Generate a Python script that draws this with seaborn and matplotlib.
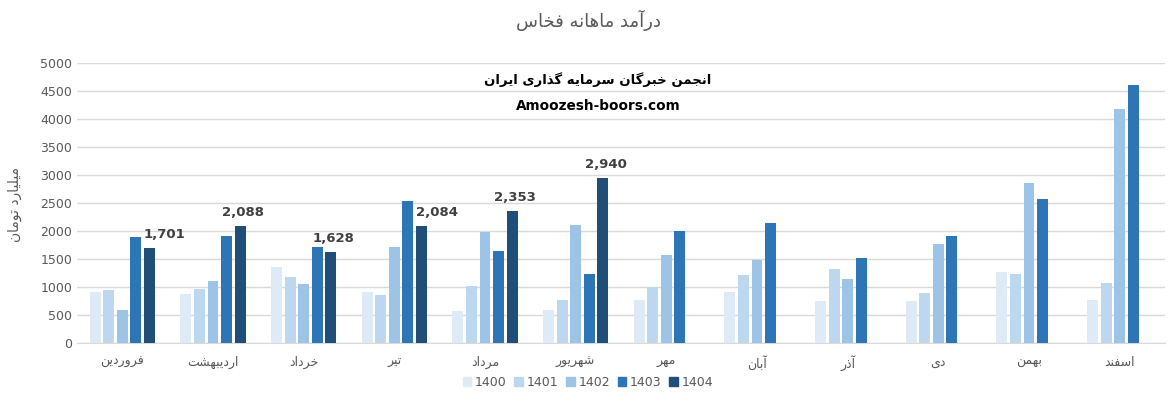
import numpy as np
import pandas as pd
import matplotlib
matplotlib.use("Agg")
import matplotlib.pyplot as plt
import seaborn as sns

# Datos (miliardos de toman)
months = ["فروردین", "اردیبهشت", "خرداد", "تیر", "مرداد", "شهریور",
          "مهر", "آبان", "آذر", "دی", "بهمن", "اسفند"]
years = ["1400", "1401", "1402", "1403", "1404"]
v1400 = [917, 881, 1363, 917, 577, 595, 774, 917, 756, 756, 1274, 774]
v1401 = [952, 970, 1184, 863, 1024, 774, 1006, 1220, 1327, 899, 1238, 1077]
v1402 = [595, 1113, 1060, 1720, 1988, 2113, 1577, 1488, 1149, 1774, 2863, 4184]
v1403 = [1899, 1917, 1720, 2542, 1649, 1238, 2006, 2149, 1524, 1917, 2577, 4613]
v1404 = [1701, 2088, 1628, 2084, 2353, 2940]
colors = ["#DEEBF7", "#BDD7EE", "#9DC3E6", "#2E75B6", "#1F4E79"]

title = "درآمد ماهانه فخاس"
ylabel = "میلیارد تومان"
brand = "انجمن خبرگان سرمایه گذاری ایران"
site = "Amoozesh-boors.com"

# Formas contextuales para el texto persa (matplotlib no hace shaping)
FORMS = {
    "ا": ("\uFE8D", "\uFE8E", None, None),
    "آ": ("\uFE81", "\uFE82", None, None),
    "ب": ("\uFE8F", "\uFE90", "\uFE91", "\uFE92"),
    "ت": ("\uFE95", "\uFE96", "\uFE97", "\uFE98"),
    "ج": ("\uFE9D", "\uFE9E", "\uFE9F", "\uFEA0"),
    "خ": ("\uFEA5", "\uFEA6", "\uFEA7", "\uFEA8"),
    "د": ("\uFEA9", "\uFEAA", None, None),
    "ذ": ("\uFEAB", "\uFEAC", None, None),
    "ر": ("\uFEAD", "\uFEAE", None, None),
    "س": ("\uFEB1", "\uFEB2", "\uFEB3", "\uFEB4"),
    "ش": ("\uFEB5", "\uFEB6", "\uFEB7", "\uFEB8"),
    "ف": ("\uFED1", "\uFED2", "\uFED3", "\uFED4"),
    "ل": ("\uFEDD", "\uFEDE", "\uFEDF", "\uFEE0"),
    "م": ("\uFEE1", "\uFEE2", "\uFEE3", "\uFEE4"),
    "ن": ("\uFEE5", "\uFEE6", "\uFEE7", "\uFEE8"),
    "ه": ("\uFEE9", "\uFEEA", "\uFEEB", "\uFEEC"),
    "و": ("\uFEED", "\uFEEE", None, None),
    "ی": ("\uFBFC", "\uFBFD", "\uFBFE", "\uFBFF"),
    "گ": ("\uFB92", "\uFB93", "\uFB94", "\uFB95"),
}


def fa(text):
    out = []
    for i, ch in enumerate(text):
        if ch not in FORMS:
            out.append(ch)
            continue
        iso, fin, ini, med = FORMS[ch]
        prev = text[i - 1] if i > 0 else ""
        nxt = text[i + 1] if i < len(text) - 1 else ""
        jp = prev in FORMS and FORMS[prev][2] is not None
        jn = ini is not None and nxt in FORMS
        if jp and jn:
            out.append(med)
        elif jp:
            out.append(fin)
        elif jn:
            out.append(ini)
        else:
            out.append(iso)
    return "".join(reversed(out))


rows = []
for y, vals in zip(years, [v1400, v1401, v1402, v1403, v1404]):
    for m, v in zip(months, vals):
        rows.append({"month": fa(m), "year": y, "value": v})
df = pd.DataFrame(rows)

sns.set_style("white")
plt.rcParams["font.family"] = ["DejaVu Sans"]

fig = plt.figure(figsize=(11.71, 3.97), dpi=100)
ax = fig.add_axes([77 / 1171, 1 - 343 / 397, 1088 / 1171, 280 / 397])

sns.barplot(data=df, x="month", y="value", hue="year", hue_order=years,
            order=[fa(m) for m in months], palette=colors, saturation=1,
            width=0.75, gap=0.2, errorbar=None, linewidth=0, ax=ax, zorder=3)

ax.set_ylim(0, 5000)
ax.set_yticks(np.arange(0, 5001, 500))
ax.yaxis.grid(True, color="#D9D9D9", linewidth=1, zorder=0)
ax.set_axisbelow(True)
for s in ["top", "right", "left"]:
    ax.spines[s].set_visible(False)
ax.spines["bottom"].set_color("#D9D9D9")
ax.tick_params(axis="both", length=0, colors="#595959", labelsize=9)
ax.tick_params(axis="x", pad=9, labelsize=9)
ax.set_xlabel("")
ax.set_ylabel("")

# Etiquetas de 1404
c03 = ax.containers[3]
c04 = ax.containers[4]
for i, bar in enumerate(c04):
    h = bar.get_height()
    if np.isnan(h):
        continue
    dx = 11 if c03[i].get_height() - h > 150 else 2
    ax.annotate(f"{int(h):,}", (bar.get_x() + bar.get_width() / 2, h),
                xytext=(dx, 5), textcoords="offset points", ha="center",
                va="bottom", fontsize=9.5, fontweight="bold", color="#404040")

fig.text(588 / 1171, 1 - 20 / 397, fa(title), ha="center", va="center",
         fontsize=13, color="#595959")
fig.text(15 / 1171, 1 - 205 / 397, fa(ylabel), ha="center", va="center",
         rotation=90, fontsize=10, color="#595959")
fig.text(598 / 1171, 1 - 80 / 397, fa(brand), ha="center", va="center",
         fontsize=9.5, fontweight="bold", color="black")
fig.text(598 / 1171, 1 - 106 / 397, site, ha="center", va="center",
         fontsize=9.8, fontweight="bold", color="black")

ax.legend_.remove()
handles = [plt.Rectangle((0, 0), 1, 1, color=c) for c in colors]
fig.legend(handles, years, loc="center", bbox_to_anchor=(588 / 1171, 1 - 382 / 397),
           ncol=5, frameon=False, fontsize=9, labelcolor="#595959",
           handlelength=0.7, handleheight=0.7, handletextpad=0.3, columnspacing=0.6)

fig.savefig("out.png", dpi=100)
